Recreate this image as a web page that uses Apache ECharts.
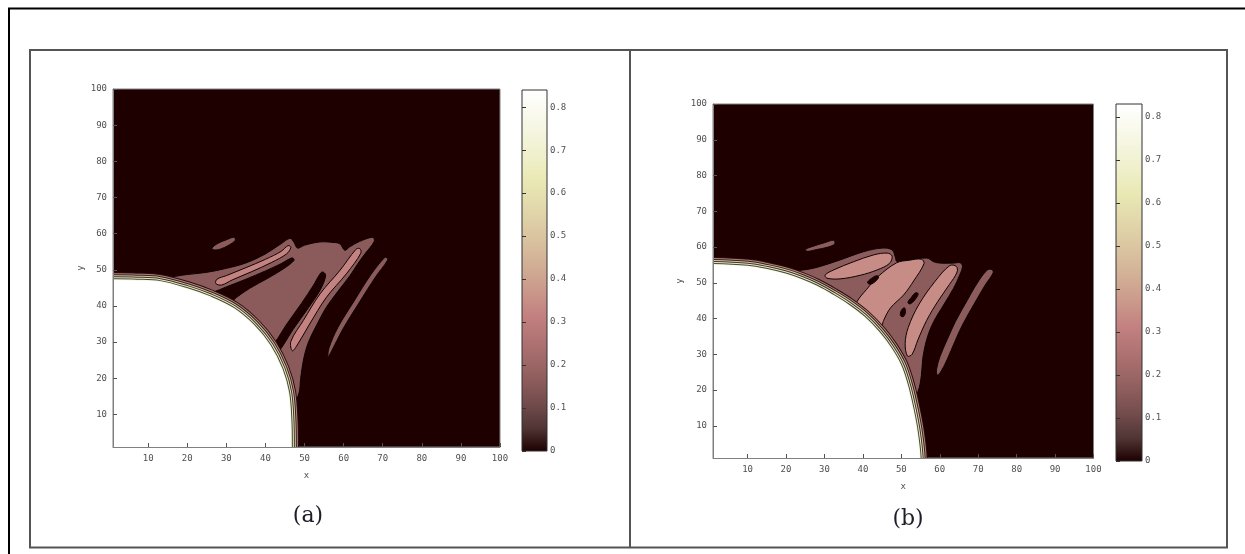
<!DOCTYPE html>
<html><head><meta charset="utf-8">
<script src="https://cdn.jsdelivr.net/npm/echarts@6/dist/echarts.min.js"></script>
<style>html,body{margin:0;padding:0;background:#fff}#c{width:1245px;height:554px}</style>
</head><body><div id="c"></div>
<script>
// ---------- tick labels / ranges ----------
const xTicks = [10,20,30,40,50,60,70,80,90,100];
const yTicks = [10,20,30,40,50,60,70,80,90,100];
const cbTicks = [0,0.1,0.2,0.3,0.4,0.5,0.6,0.7,0.8];
const axisMin = 1, axisMax = 100;
const cbMaxA = 0.84, cbMaxB = 0.83;
const panelLabels = ['(a)', '(b)'];

// ---------- contour levels ----------
const levelBg = 0, levelMid = 0.16, levelLightA = 0.32, levelLightB = 0.34;

// ---------- panel (a) regions (data coordinates) ----------
const aWhite = [[-10,47.1],[1,47.1],[7,47],[13,46.6],[19.8,44.7],[25.8,42.4],[31.8,39.2],[36.9,34.6],[41.1,29.0],[44.1,22.6],[45.8,16.1],[46.4,8],[46.5,1],[46.5,-10],[-10,-10]];
const aBlob = [[14,47.6],[17,48.2],[20,48.7],[25,49.3],[30,50.4],[35,51.9],[40,54.4],[44,57.2],[46.3,58.7],[47.3,57.6],[48.2,56.0],[50,56.8],[53.9,57.7],[57,57.6],[59,57.2],[60.3,55.4],[61.5,56.3],[64,57.8],[67.5,59.0],[67.8,57.8],[65.5,54.5],[63.5,51.5],[61.7,48.5],[58.5,44],[55.5,39.5],[53,34.5],[51,30],[49.8,25.5],[49,20],[48.6,16],[47.5,14],[44,20],[38,32],[28,41],[14,46]];
const aSmall = [[26.3,56.0],[27.8,57.3],[30,58.3],[31.9,59.0],[32.3,58.2],[30.6,56.8],[28.4,55.7],[26.8,55.5]];
const aRight = [[56,26],[56.9,27.5],[59.7,33.4],[63.9,40.8],[68.2,48.1],[71.2,52.6],[71,53.4],[70.4,53.3],[67,48.7],[62.7,41.4],[58.5,34],[56.3,28.5]];
const aLight1 = [[27.3,46.2],[27.6,47.4],[30,48.4],[35,50.6],[40,52.9],[44,55.1],[45.8,56.7],[46.5,56.2],[45.4,54.4],[41.5,52],[36.5,49.5],[31.5,47.2],[28.8,45.8]];
const aLight2 = [[46.9,27.6],[48.3,29.5],[51.3,35],[55.6,42.4],[60.7,48.9],[64.4,54.6],[64.1,55.9],[63.1,55.6],[59.1,49.9],[54,43.4],[49.7,36],[46.5,30.2]];
const aHole1 = [[26.8,43.6],[28.5,44.6],[31,45.7],[35,47.4],[40,49.7],[44,51.7],[46.8,53.3],[47.3,52.6],[44.5,50.2],[40.5,47.6],[36,44.9],[32.5,42.3],[30.5,40.6],[28.5,41.2]];
const aHole2 = [[41.8,26.5],[43.2,27.2],[45,29.9],[47,33.4],[51,39.5],[54,44.4],[55.4,48.3],[54.9,49.3],[54.2,49.2],[52.2,45.6],[49.2,40.7],[45.2,34.6],[43.2,31.1],[41.1,28]];

// ---------- panel (b) regions ----------
const bWhite = [[-10,54.7],[1,54.7],[10,54.2],[15,53.3],[20,52],[24,50.5],[28,48.6],[32,46.2],[36,43.5],[40,40.2],[44,35.8],[47,31.5],[49.5,26.8],[51.3,21],[52.8,14],[53.8,8],[54.5,1],[54.5,-10],[-10,-10]];
const bBlob = [[20,53],[24.6,53.6],[28,54.3],[34.1,56.4],[40.2,58.7],[45,59.7],[47.6,59.2],[48.4,57.3],[48.9,55.9],[51.5,56.4],[56.7,56.9],[58.4,55.9],[60.1,55.5],[63.6,55.5],[65.3,55.6],[65.9,54.6],[65.2,52.2],[63.6,48.5],[61,43.8],[58.4,39.1],[56.7,34.5],[55.6,29],[55.2,24],[54.3,19.5],[52.5,17],[48,22],[40,37],[30,46],[20,51]];
const bSmall = [[25,59.3],[27,60.2],[30,61.2],[32.4,61.9],[32.7,60.9],[31,60],[28,59.3],[25.6,58.8]];
const bRight = [[59.3,24.2],[60.2,25],[61.9,28.5],[63.9,33.5],[65.9,38.2],[68.9,44],[71.9,49.5],[73.9,52.8],[73.6,53.7],[72.4,53.6],[70.1,50.5],[67.1,45],[64.1,39.2],[62.1,34.5],[60.1,29.5],[59.2,26]];
const bLight1 = [[30.2,52.2],[32.4,53.6],[37.6,55.9],[42.8,57.8],[46.3,58.3],[47.6,57.5],[46.9,55.4],[43.7,53.6],[39.3,52.1],[34.1,51.1],[30.6,51.3]];
const bLight2 = [[38.5,44.8],[41,48.2],[44,51.8],[48.8,55.6],[52,56.3],[55.2,56.6],[55.9,55.4],[53.2,50.5],[50.6,46.6],[47.2,43],[45.4,39.5],[44.5,37],[42,38],[38,42.5]];
const bLight3 = [[51.6,29.5],[52.8,30],[54.3,34],[56.6,39.5],[59.5,44.8],[62.5,49.5],[64.5,53],[64.3,54.6],[62.6,54.8],[58.7,50.3],[54.5,43.8],[51.8,37.5],[51,33]];
const bHole1 = [[41.2,50.1],[42.2,51.2],[43.6,52],[44.1,51.6],[43.3,50.4],[41.9,49.6]];
const bHole2 = [[51.7,44.5],[52.6,45.9],[53.7,47.2],[54.4,46.9],[53.5,45.2],[52.3,44.1]];
const bHole3 = [[49.8,40.8],[50,42.3],[50.8,43],[51.1,42],[50.6,40.6]];

// ---------- colour map (Matlab "pink") ----------
const pinkStops = [[0,'#1e0000'],[0.0625,'#503434'],[0.125,'#704a4a'],[0.1875,'#8a5a5a'],[0.25,'#9f6868'],[0.3125,'#b27474'],[0.375,'#c38080'],[0.4375,'#ca968a'],[0.5,'#d0aa93'],[0.5625,'#d7bc9c'],[0.625,'#ddcca5'],[0.6875,'#e3dbad'],[0.75,'#e9e9b4'],[0.8125,'#efefca'],[0.875,'#f4f4dd'],[0.9375,'#fafaef'],[1,'#ffffff']];
function hex(c){return [parseInt(c.substr(1,2),16),parseInt(c.substr(3,2),16),parseInt(c.substr(5,2),16)];}
function colorAt(v, vmax){
  const t = Math.max(0, Math.min(1, v / vmax));
  for (let i = 1; i < pinkStops.length; i++) {
    if (t <= pinkStops[i][0]) {
      const [t0,c0] = pinkStops[i-1], [t1,c1] = pinkStops[i];
      const f = (t - t0) / (t1 - t0), a = hex(c0), b = hex(c1);
      return 'rgb(' + a.map((x,k)=>Math.round(x + (b[k]-x)*f)).join(',') + ')';
    }
  }
  return '#ffffff';
}

const regionsA = [
  {pts:aBlob, v:levelMid},{pts:aSmall, v:levelMid},{pts:aRight, v:levelMid},
  {pts:aLight1, v:levelLightA},{pts:aLight2, v:levelLightA},
  {pts:aHole1, v:levelBg},{pts:aHole2, v:levelBg}
];
const regionsB = [
  {pts:bBlob, v:levelMid},{pts:bSmall, v:levelMid},{pts:bRight, v:levelMid},
  {pts:bLight1, v:levelLightB},{pts:bLight2, v:levelLightB},{pts:bLight3, v:levelLightB},
  {pts:bHole1, v:levelBg},{pts:bHole2, v:levelBg},{pts:bHole3, v:levelBg}
];

const FONT = 'DejaVu Sans Mono';
const SMOOTH = 0.35;

function regionSeries(regions, xi, yi, vmax){
  return {
    type:'custom', xAxisIndex:xi, yAxisIndex:yi, clip:true, z:2, silent:true,
    data: regions.map(r => [r.pts[0][0], r.pts[0][1], r.v]),
    encode:{x:0, y:1},
    renderItem:(params, api) => {
      const r = regions[params.dataIndex];
      return {type:'polygon', shape:{points:r.pts.map(p=>api.coord(p)), smooth:SMOOTH},
        style:{fill:colorAt(r.v, vmax), stroke:'#0e0303', lineWidth:1}};
    }
  };
}
function diskSeries(pts, xi, yi, vmax, nRings){
  const ringCols = ['#241010', colorAt(0.3,vmax), '#2e241e', colorAt(0.5,vmax), '#38342e', colorAt(0.65,vmax), '#45453c', colorAt(0.76,vmax), colorAt(0.82,vmax)];
  return {
    type:'custom', xAxisIndex:xi, yAxisIndex:yi, clip:true, z:3, silent:true,
    data:[[pts[1][0], pts[1][1]]], encode:{x:0,y:1},
    renderItem:(params, api) => {
      const p = pts.map(q=>api.coord(q));
      const children = [];
      for (let i = 0; i < nRings; i++) {
        children.push({type:'polygon', shape:{points:p, smooth:SMOOTH},
          style:{fill:'none', stroke:ringCols[i], lineWidth:2*(nRings-i), lineJoin:'round'}});
      }
      children.push({type:'polygon', shape:{points:p, smooth:SMOOTH}, style:{fill:'#ffffff', stroke:null}});
      return {type:'group', children};
    }
  };
}
function colorbarSeries(xi, yi, vmax){
  return {
    type:'custom', xAxisIndex:xi, yAxisIndex:yi, z:2, silent:true,
    data:[[0,0]], encode:{x:0,y:1},
    renderItem:(params, api) => {
      const p0 = api.coord([0,0]), p1 = api.coord([1,vmax]);
      return {type:'rect', shape:{x:p0[0], y:p1[1], width:p1[0]-p0[0], height:p0[1]-p1[1]},
        style:{fill:new echarts.graphic.LinearGradient(0,1,0,0, pinkStops.map(([t,c])=>({offset:t,color:c})))}};
    }
  };
}

const lab = {color:'#505050', fontFamily:FONT, fontSize:9};
function plotX(gi){
  return {gridIndex:gi, type:'value', min:axisMin, max:axisMax, z:10,
    name:'x', nameLocation:'middle', nameGap:24, nameTextStyle:lab,
    axisLine:{show:true, lineStyle:{color:'#808080', width:1}},
    axisTick:{show:true, inside:true, length:4, customValues:xTicks, lineStyle:{color:'#555'}},
    axisLabel:Object.assign({customValues:xTicks, margin:7}, lab),
    splitLine:{show:false}};
}
function plotY(gi, gap){
  return {gridIndex:gi, type:'value', min:axisMin, max:axisMax, z:10,
    name:'y', nameLocation:'middle', nameGap:gap, nameRotate:90, nameTextStyle:lab,
    axisLine:{show:true, lineStyle:{color:'#808080', width:1}},
    axisTick:{show:true, inside:true, length:4, customValues:yTicks, lineStyle:{color:'#555'}},
    axisLabel:Object.assign({customValues:yTicks, margin:6}, lab),
    splitLine:{show:false}};
}
function cbX(gi){ return {gridIndex:gi, type:'value', min:0, max:1, show:false}; }
function cbYRight(gi, vmax){
  return {gridIndex:gi, type:'value', min:0, max:vmax, position:'right', z:10,
    axisLine:{show:false}, splitLine:{show:false},
    axisTick:{show:true, inside:false, length:4, customValues:cbTicks, lineStyle:{color:'#333'}},
    axisLabel:Object.assign({customValues:cbTicks, margin:3, formatter:v=>v===0?'0':v.toFixed(1)}, lab)};
}
function cbYLeft(gi, vmax){
  return {gridIndex:gi, type:'value', min:0, max:vmax, position:'left', z:10,
    axisLine:{show:false}, splitLine:{show:false}, axisLabel:{show:false},
    axisTick:{show:true, inside:true, length:3, customValues:cbTicks, lineStyle:{color:'#333'}}};
}

const chart = echarts.init(document.getElementById('c'), null, {renderer:'canvas'});
chart.setOption({
  animation:false,
  backgroundColor:'#ffffff',
  textStyle:{fontFamily:FONT},
  grid:[
    {left:113, top:89, width:387, height:358, show:true, backgroundColor:colorAt(levelBg,cbMaxA), borderColor:'#808080', borderWidth:1},
    {left:522, top:90, width:25, height:361, show:true, backgroundColor:'transparent', borderColor:'#333', borderWidth:1, z:5},
    {left:713, top:104, width:380.5, height:354, show:true, backgroundColor:colorAt(levelBg,cbMaxB), borderColor:'#808080', borderWidth:1},
    {left:1116, top:104, width:26, height:357, show:true, backgroundColor:'transparent', borderColor:'#333', borderWidth:1, z:5}
  ],
  xAxis:[plotX(0), cbX(1), plotX(2), cbX(3)],
  yAxis:[plotY(0,28), cbYRight(1,cbMaxA), cbYLeft(1,cbMaxA), plotY(2,29), cbYRight(3,cbMaxB), cbYLeft(3,cbMaxB)],
  series:[
    regionSeries(regionsA, 0, 0, cbMaxA),
    diskSeries(aWhite, 0, 0, cbMaxA, 8),
    colorbarSeries(1, 1, cbMaxA),
    regionSeries(regionsB, 2, 3, cbMaxB),
    diskSeries(bWhite, 2, 3, cbMaxB, 9),
    colorbarSeries(3, 4, cbMaxB)
  ],
  graphic:[
    {type:'line', shape:{x1:8, y1:8.5, x2:1245, y2:8.5}, style:{stroke:'#000', lineWidth:2}},
    {type:'line', shape:{x1:9, y1:8, x2:9, y2:554}, style:{stroke:'#000', lineWidth:2}},
    {type:'rect', shape:{x:30, y:50, width:1197, height:497.5}, style:{fill:'none', stroke:'#555', lineWidth:2}},
    {type:'line', shape:{x1:630, y1:50, x2:630, y2:547.5}, style:{stroke:'#555', lineWidth:2}},
    {type:'text', x:308, y:516, style:{text:panelLabels[0], font:'22px "DejaVu Serif"', fill:'#1e1e2a', align:'center', verticalAlign:'middle'}},
    {type:'text', x:908, y:519, style:{text:panelLabels[1], font:'22px "DejaVu Serif"', fill:'#1e1e2a', align:'center', verticalAlign:'middle'}}
  ]
});
</script></body></html>
